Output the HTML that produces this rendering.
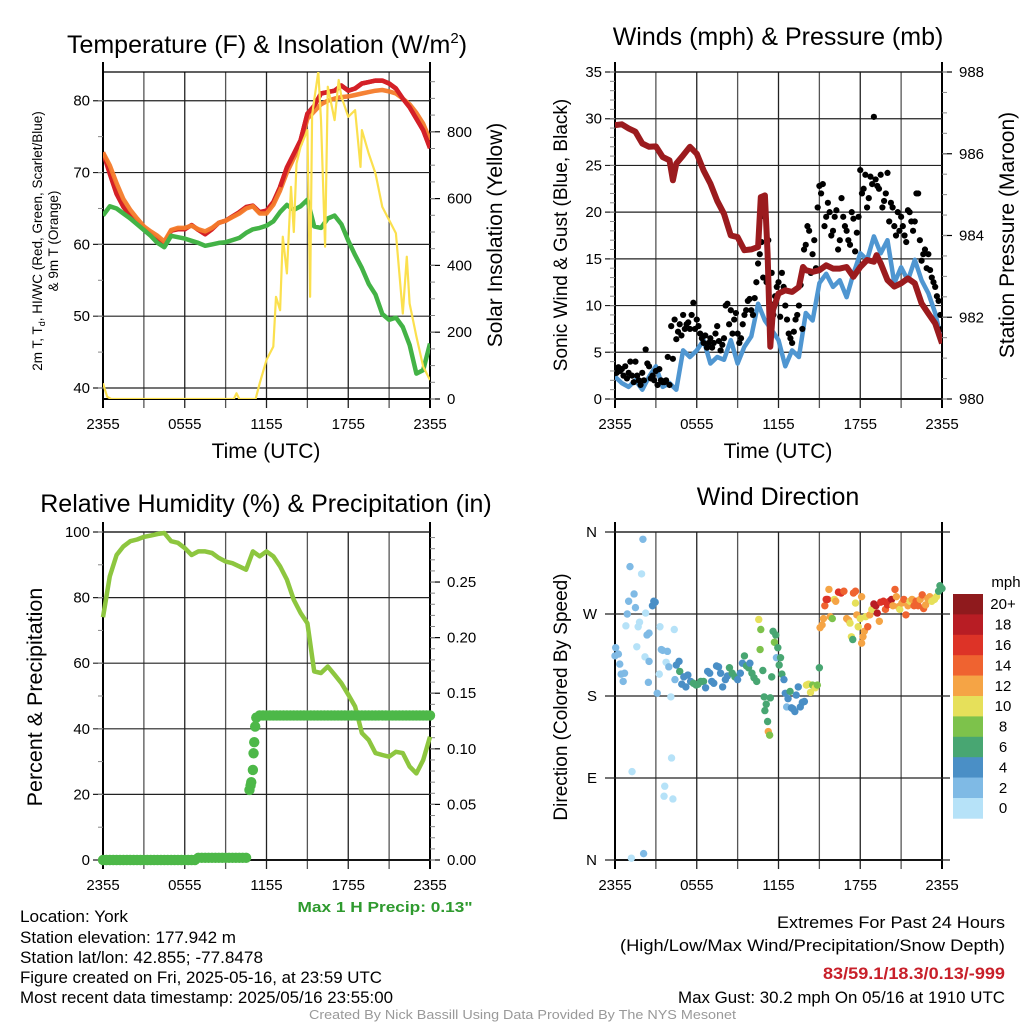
<!DOCTYPE html>
<html><head><meta charset="utf-8">
<style>
html,body{margin:0;padding:0;background:#fff;}
svg{display:block;font-family:"Liberation Sans",Arial,sans-serif;}
</style></head>
<body>
<svg id="chart" width="1024" height="1024" viewBox="0 0 1024 1024" xmlns="http://www.w3.org/2000/svg">
<rect x="0" y="0" width="1024" height="1024" fill="#fff"/>
<defs>
<clipPath id="c1"><rect x="103" y="72" width="327" height="327"/></clipPath>
<clipPath id="c2"><rect x="615" y="72" width="327" height="327"/></clipPath>
<clipPath id="c3"><rect x="97" y="526" width="340" height="340"/></clipPath>
<clipPath id="c4"><rect x="609" y="526" width="339" height="340"/></clipPath>
</defs>
<g id="layer"></g>

<text x="267" y="53" font-size="25" text-anchor="middle">Temperature (F) &amp; Insolation (W/m<tspan font-size="15" dy="-10">2</tspan><tspan dy="10">)</tspan></text>
<text x="778" y="45" font-size="25" text-anchor="middle">Winds (mph) &amp; Pressure (mb)</text>
<text x="266" y="512" font-size="25" text-anchor="middle">Relative Humidity (%) &amp; Precipitation (in)</text>
<text x="778" y="505" font-size="25" text-anchor="middle">Wind Direction</text>

<text transform="translate(42,241) rotate(-90)" font-size="13.5" text-anchor="middle">2m T, T<tspan font-size="9" dy="3">d</tspan><tspan dy="-3">, HI/WC (Red, Green, Scarlet/Blue)</tspan></text>
<text transform="translate(58,241) rotate(-90)" font-size="13.5" text-anchor="middle">&amp; 9m T (Orange)</text>
<text transform="translate(502,235) rotate(-90)" font-size="21" text-anchor="middle">Solar Insolation (Yellow)</text>
<text transform="translate(567,235) rotate(-90)" font-size="19" text-anchor="middle">Sonic Wind &amp; Gust (Blue, Black)</text>
<text transform="translate(1014,235) rotate(-90)" font-size="21" text-anchor="middle">Station Pressure (Maroon)</text>
<text transform="translate(42,697) rotate(-90)" font-size="21.5" text-anchor="middle">Percent &amp; Precipitation</text>
<text transform="translate(567,697) rotate(-90)" font-size="19" text-anchor="middle">Direction (Colored By Speed)</text>
<text x="266" y="458" font-size="21" text-anchor="middle">Time (UTC)</text>
<text x="778" y="458" font-size="21" text-anchor="middle">Time (UTC)</text>

<text x="385" y="912" font-size="15" font-weight="bold" fill="#2e9a2e" text-anchor="middle" textLength="175" lengthAdjust="spacingAndGlyphs">Max 1 H Precip: 0.13"</text>
<g font-size="16.5">
<text x="20" y="922" textLength="108" lengthAdjust="spacingAndGlyphs">Location: York</text>
<text x="20" y="943" textLength="216" lengthAdjust="spacingAndGlyphs">Station elevation: 177.942 m</text>
<text x="20" y="963" textLength="243" lengthAdjust="spacingAndGlyphs">Station lat/lon: 42.855; -77.8478</text>
<text x="20" y="983" textLength="362" lengthAdjust="spacingAndGlyphs">Figure created on Fri, 2025-05-16, at 23:59 UTC</text>
<text x="20" y="1003" textLength="373" lengthAdjust="spacingAndGlyphs">Most recent data timestamp: 2025/05/16 23:55:00</text>
</g>
<g font-size="16.5">
<text x="777" y="928" textLength="228" lengthAdjust="spacingAndGlyphs">Extremes For Past 24 Hours</text>
<text x="620" y="951" textLength="385" lengthAdjust="spacingAndGlyphs">(High/Low/Max Wind/Precipitation/Snow Depth)</text>
<text x="823" y="979" font-weight="bold" fill="#c8202a" textLength="182" lengthAdjust="spacingAndGlyphs">83/59.1/18.3/0.13/-999</text>
<text x="678" y="1003" textLength="327" lengthAdjust="spacingAndGlyphs">Max Gust: 30.2 mph On 05/16 at 1910 UTC</text>
</g>
<text x="309" y="1019" font-size="13" fill="#999" textLength="427" lengthAdjust="spacingAndGlyphs">Created By Nick Bassill Using Data Provided By The NYS Mesonet</text>
</svg>
<script>
// ---- data ----
const tempRed = [72.8,69.8,67,65.2,64,63.1,62.2,61.4,60.7,60,61.9,62.1,62.1,62.7,62,61.4,62.1,63,63.3,63.9,64.5,65.2,65.4,64.5,64.7,65.9,68,70.7,72.6,74.5,78.2,79.3,81,81.2,81.4,82.1,81.4,81.7,82.4,82.6,82.8,82.8,82.4,81.7,80.3,79.1,77.5,75.9,73.4];
const tempOrange = [72.8,71,68.5,66.3,64.8,63.6,62.5,61.8,61.2,60.4,62,62.3,62.3,62.6,62.1,61.8,62.3,63,63.3,63.8,64.3,65,65.3,64.3,64.3,65.5,67.5,70,72,74,77.5,78.5,79.5,80,80.3,80.5,80.6,80.8,81,81.2,81.4,81.5,81.3,81,80.3,79.5,78.3,76.8,74.5];
const dewGreen = [64,65.3,65,64.3,63.6,62.8,62,61.2,60.2,59.6,61.2,61,60.8,60.5,60.2,59.8,60,60.2,60.3,60.6,60.9,61.6,62.1,62.3,62.6,63.2,64.5,65.5,64.8,65.3,66.2,62.5,62.3,63.6,64,62.8,60.5,58.5,56.7,54.5,53,50.3,49.5,49.8,48.5,46,42,42.5,46.2];
const solarHours = [0,0.3,0.6,9.6,9.8,10,11.2,11.5,12,12.5,12.7,13,13.2,13.5,13.8,14,14.2,14.5,15,15.2,15.35,15.5,15.8,16,16.3,16.5,17,17.3,17.5,18,18.5,18.9,19,19.5,20,20.5,21,21.5,22,22.3,22.5,23,23.5,24];
const solarVals = [47,7,0,0,17,0,0,47,117,157,306,266,486,376,635,500,705,755,805,306,850,895,980,835,456,935,835,955,905,845,865,695,805,735,675,575,536,496,256,426,286,187,97,57];
const windSpeed = [2.4,1.7,1.3,2,1,2.4,3.5,1.3,1.7,1,5.2,4.5,5.2,6.3,3.8,4.5,4.2,6.3,3.8,5.6,6.7,10.2,8.4,7.4,6.3,3.5,5.2,4.5,9.2,8.4,12.4,13.4,12,12.7,10.9,13.4,15.6,14.9,17.4,15.6,17,12.4,14.1,12.7,14.9,12.7,11.3,9.2,6];
const gustA = [3.0,3.4,3.2,3.5,2.8,2.5,4.0,2.0,2.8,5.3,3.5,2.5,3.0,3.2,1.8,2.0,1.5,4.3,6.4,8.0,9.0,8.0,7.5,10.3,8.5,7.0,6.0,5.5,6.5,6.0,7.8,5.2,6.5,10.2,9.5,8.5,7.0,6.5,9.0,10.5,9.5,10.8,14.5,16.8,19.5,17.0,13.5,11.0,12.5,13.5,10.0,7.0,6.0,8.5,10.0,7.5,16.5,18.0,15.5,14.0,22.8,23.0,19.5,20.0,18.0,20.2,17.0,19.5,18.0,16.5,19.3,17.8,24.5,22.5,20.5,23.8,30.2,22.8,24.0,21.2,24.2,21.0,18.5,20.0,19.5,17.5,20.2,19.0,19.0,22.0,14.8,16.0,15.5,13.0,12.0,10.5,7.5];
const gustB = [2.8,3.0,2.5,2.2,4.0,1.8,2.5,1.5,2.0,3.8,2.2,2.0,1.5,2.0,1.8,4.5,7.8,8.5,7.2,6.8,7.5,8.2,9.0,7.5,7.8,6.5,6.8,6.0,5.5,7.0,6.2,5.8,10.0,8.0,7.0,9.2,6.0,8.0,9.5,10.7,9.0,12.5,15.5,13.0,12.5,10.2,9.0,12.0,8.8,12.0,8.5,6.5,7.2,9.0,12.2,16.0,18.5,13.5,17.0,20.5,22.0,18.5,21.0,17.5,19.5,16.0,21.5,18.5,17.0,20.0,15.8,19.5,22.0,24.0,21.5,23.0,23.5,22.5,20.5,22.0,19.0,20.5,17.5,18.0,18.5,16.8,20.0,18.0,22.0,17.0,15.5,14.0,13.8,12.5,11.0,9.0];
const pressHours = [0,0.5,1,1.5,2,2.5,3,3.5,4,4.25,4.5,5,5.5,6,6.5,7,7.5,8,8.5,9,9.5,10,10.5,10.7,11,11.2,11.4,11.6,12,12.5,13,13.5,13.8,14,14.5,15,15.5,16,16.5,17,17.5,18,18.5,19,19.2,19.5,20,20.5,21,21.5,22,22.5,23,23.5,24];
const pressVals = [986.70,986.72,986.62,986.54,986.25,986.17,986.18,985.92,985.84,985.35,985.76,985.96,986.17,986.0,985.59,985.27,984.85,984.53,984.0,983.96,983.64,983.66,983.72,984.94,984.98,983.55,981.28,982.18,982.58,982.66,982.62,982.74,983.23,983.15,983.11,983.15,983.27,983.19,983.19,983.23,982.99,983.23,983.4,983.36,983.52,983.32,982.91,982.75,982.83,982.95,982.83,982.34,982.09,981.85,981.36];
const rhVals = [74,86.5,93,95.6,97.2,97.7,98.5,98.9,99.4,99.7,97.2,96.7,95.1,93,94.1,94.1,93.6,92.1,91,90.5,89.5,88.5,94.1,92.6,94.1,92.6,89.5,85.5,79.3,75.3,72.2,57.5,57,59,56.5,53.9,50.4,46.8,38.7,36.6,32.6,32,31.5,33,32.6,28.5,26.4,30.5,37.6];
const precip15 = [0,0,0,0,0,0,0,0,0,0,0,0,0,0,0,0,0,0,0,0,0,0,0,0,0,0,0,0,0.002,0.002,0.002,0.002,0.002,0.002,0.002,0.002,0.002,0.002,0.002,0.002,0.002,0.002,0.002,0.063,0.081,0.128,0.13,0.13,0.13,0.13,0.13,0.13,0.13,0.13,0.13,0.13,0.13,0.13,0.13,0.13,0.13,0.13,0.13,0.13,0.13,0.13,0.13,0.13,0.13,0.13,0.13,0.13,0.13,0.13,0.13,0.13,0.13,0.13,0.13,0.13,0.13,0.13,0.13,0.13,0.13,0.13,0.13,0.13,0.13,0.13,0.13,0.13,0.13,0.13,0.13,0.13,0.13];
const precipRampHours = [10.83,10.88,11.05,11.1,11.17];
const precipRampVals = [0.067,0.07,0.096,0.106,0.12];
const dirHours = [0,0.05,0.25,0.35,0.45,0.6,0.7,0.8,0.9,1.0,1.1,1.25,1.2,1.4,1.5,1.6,1.7,1.8,1.95,2.05,2.1,2.2,2.25,2.35,2.5,2.5,2.45,2.75,2.85,2.95,3.1,3.25,3.3,3.4,3.5,3.6,3.65,3.75,3.85,3.95,4.1,4.15,4.25,4.35,4.4,4.5,4.7,4.75,4.9,5.05,5.2,5.35,5.55,5.75,5.95,6.1,6.3,6.5,6.65,6.8,6.95,7.1,7.25,7.45,7.6,7.75,7.9,8.1,8.25,8.4,8.6,8.8,9.0,9.2,9.35,9.5,9.65,9.8,9.9,10.05,10.2,10.4,10.55,10.65,10.7,10.85,10.95,11.0,11.1,11.2,11.25,11.35,11.4,11.5,11.6,11.7,11.8,11.85,11.95,12.05,12.15,12.25,12.4,12.5,12.6,12.7,12.85,12.95,13.05,13.2,13.3,13.45,13.6,13.75,13.9,14.05,14.2,14.35,14.5,14.7,14.85,15.0,15.05,15.2,15.3,15.4,15.5,15.6,15.7,15.8,15.95,16.1,16.2,16.4,16.6,16.8,17.0,17.15,17.25,17.35,17.45,17.5,17.65,17.65,17.75,17.85,18.0,18.1,18.1,18.2,18.3,18.4,18.55,18.7,18.85,19.0,19.15,19.25,19.4,19.5,19.7,19.85,20.0,20.15,20.3,20.4,20.55,20.65,20.8,20.9,21.05,21.2,21.35,21.5,21.65,21.8,21.95,22.1,22.25,22.4,22.55,22.65,22.8,22.95,23.1,23.25,23.45,23.6,23.75,23.85,24.0];
const dirDeg = [224,233,226,215,204,196,205,257,270,284,322,97,2,292,277,234,256,261,314,352,7,223,271,247,249,218,195,279,284,283,183,204,256,231,230,70,81,217,229,212,179,112,67,253,198,214,218,207,193,201,190,203,196,194,192,193,196,196,189,207,205,196,194,213,212,205,190,198,202,211,205,201,198,205,216,224,213,211,216,205,200,196,264,231,253,208,179,164,171,152,141,137,178,201,251,239,247,222,233,214,222,204,198,183,168,177,185,167,166,163,181,190,168,173,174,192,193,184,192,189,192,211,255,258,265,279,286,286,297,267,265,286,284,294,293,295,265,263,260,245,242,293,295,282,269,256,265,289,238,245,251,267,256,269,275,281,279,271,262,283,284,275,280,284,286,279,297,289,278,275,282,286,269,279,284,286,279,284,279,286,291,276,280,287,289,284,286,289,295,301,298];
const dirSpeed = [2,2,2,2,2,2,2,1,2,2,2,0.5,1,2,2,1,0.5,0.5,1,2,3,1,1,2,2,3,2,4,4,4,2,1,1,3,2,0.5,1,1,3,2,1,1,1,1,2,4,4,6,4,4,4,4,4,6,6,6,6,6,4,4,4,4,4,4,4,4,4,4,4,6,6,6,4,4,4,6,6,6,4,6,6,6,10,8,8,6,6,6,6,6,12,8,6,6,6,8,6,2,6,6,6,6,4,4,2,4,6,4,4,4,4,4,4,4,4,10,10,10,8,10,8,6,12,12,12,14,16,16,12,12,8,10,12,16,16,14,12,12,10,10,6,14,14,10,12,10,10,12,12,12,12,10,14,12,10,18,18,18,12,16,16,14,16,16,18,12,14,12,12,10,12,14,14,12,10,12,14,14,14,12,14,14,12,12,12,10,10,10,6,6,6];
const speedColors = ["#b6e2f8","#7fbae5","#4a8fc6","#48a672","#7dc24b","#e6e05a","#f5a445","#ef6330","#dd3327","#b81d24","#8f1a1d"];
const speedLabels = ["0","2","4","6","8","10","12","14","16","18","20+"];
const timeTickLabels = ["2355","0555","1155","1755","2355"];
const tempTicks = [40,50,60,70,80];
const solarTicks = [0,200,400,600,800];
const windTicks = [0,5,10,15,20,25,30,35];
const pressTicks = [980,982,984,986,988];
const rhTicks = [0,20,40,60,80,100];
const precipTicks = ["0.00","0.05","0.10","0.15","0.20","0.25"];
const dirTickLabels = ["N","E","S","W","N"];

// ---- helpers ----
const NS = "http://www.w3.org/2000/svg";
const layer = document.getElementById('layer');
function mk(tag, attrs, parent) {
  const e = document.createElementNS(NS, tag);
  for (const k in attrs) e.setAttribute(k, attrs[k]);
  (parent || layer).appendChild(e);
  return e;
}
function lin(d0, d1, r0, r1) { return v => r0 + (v - d0) / (d1 - d0) * (r1 - r0); }
function line(x1, y1, x2, y2, w, c, parent) {
  return mk('line', {x1:x1, y1:y1, x2:x2, y2:y2, stroke:c || '#000', 'stroke-width':w || 1}, parent);
}
function txt(x, y, s, size, anchor, parent) {
  const t = mk('text', {x:x, y:y, 'font-size':size, 'text-anchor':anchor || 'middle'}, parent);
  t.textContent = s;
  return t;
}
function pathD(xs, ys) {
  let d = '';
  for (let i = 0; i < xs.length; i++) d += (i ? 'L' : 'M') + xs[i].toFixed(1) + ',' + ys[i].toFixed(1);
  return d;
}

function frame(name, x0, x1, y0, y1, withTopExt) {
  const g = mk('g', {});
  
  
  const xs = lin(0, 24, x0, x1);
  for (let h = 0; h <= 24; h += 3) {
    const gl = line(xs(h), y0, xs(h), y1 + 9, 1.3, (h % 6 === 0) ? '#222' : '#555', g);
    
    
  }
  for (let i = 0; i < timeTickLabels.length; i++) {
    const t = txt(xs(i * 6), y1 + 30, timeTickLabels[i], 15, 'middle', g);
    
    
  }
  line(x0, y0 - (withTopExt ? 10 : 0), x0, y1 + 9, 2, '#000', g);
  line(x1, y0 - (withTopExt ? 10 : 0), x1, y1 + 9, 2, '#000', g);
  line(x0, y0, x1, y0, 1.3, '#000', g);
  line(x0, y1, x1, y1, 2, '#000', g);
  return g;
}
function leftAxis(g, x0, x1, ys, ticks, labels, minorStep, d0, d1) {
  for (let i = 0; i < ticks.length; i++) {
    const y = ys(ticks[i]);
    const gl = line(x0 - 10, y, x1, y, 1.2, '#222', g);
    
    
    const t = txt(x0 - 13, y + 5, labels[i], 15, 'end', g);
    
    
  }
  if (minorStep) for (let v = d0; v <= d1 + 1e-9; v += minorStep) line(x0 - 5, ys(v), x0, ys(v), 1, '#888', g);
}
function rightAxis(g, x1, ys, ticks, labels, minorStep, d0, d1) {
  for (let i = 0; i < ticks.length; i++) {
    const y = ys(ticks[i]);
    line(x1, y, x1 + 10, y, 1.2, '#000', g);
    const t = txt(x1 + 17, y + 5, labels[i], 15, 'start', g);
    
    
  }
  for (let v = d0; v <= d1 + 1e-9; v += minorStep) line(x1, ys(v), x1 + 5, ys(v), 1, '#888', g);
}

// ---- Panel 1: temperature ----
(function(){
  const x0 = 103, x1 = 430, y0 = 72, y1 = 399;
  const xs = lin(0, 24, x0, x1);
  const yT = lin(38.47, 84.0, y1, y0);
  const yS = lin(0, 979, y1, y0);
  const g = frame('temperature', x0, x1, y0, y1, true);
  leftAxis(g, x0, x1, yT, tempTicks, tempTicks.map(String), 5, 40, 80);
  rightAxis(g, x1, yS, solarTicks, solarTicks.map(String), 50, 0, 950);
  const half = tempRed.map((v, i) => i * 0.5);
  const pl = mk('g', {'clip-path':'url(#c1)'});
  
  
  const red = mk('path', {d:pathD(half.map(xs), tempRed.map(yT)), fill:'none', stroke:'#d42027', 'stroke-width':4.5, 'stroke-linejoin':'round'}, pl);
  
  
  const org = mk('path', {d:pathD(half.map(xs), tempOrange.map(yT)), fill:'none', stroke:'#f47b2a', 'stroke-width':4.5, 'stroke-linejoin':'round', opacity:0.95}, pl);
  
  
  const red2 = mk('path', {d:pathD(half.slice(26).map(xs), tempRed.slice(26).map(yT)), fill:'none', stroke:'#d42027', 'stroke-width':4.5, 'stroke-linejoin':'round'}, pl);
  
  
  const grn = mk('path', {d:pathD(half.map(xs), dewGreen.map(yT)), fill:'none', stroke:'#43b346', 'stroke-width':4.5, 'stroke-linejoin':'round'}, pl);
  
  
  const sol = mk('path', {d:pathD(solarHours.map(xs), solarVals.map(yS)), fill:'none', stroke:'#fbe04e', 'stroke-width':2.2, 'stroke-linejoin':'round'}, pl);
  
  
})();

// ---- Panel 2: winds ----
(function(){
  const x0 = 615, x1 = 942, y0 = 72, y1 = 399;
  const xs = lin(0, 24, x0, x1);
  const yW = lin(0, 35, y1, y0);
  const yP = lin(980, 988, y1, y0);
  const g = frame('winds', x0, x1, y0, y1, true);
  leftAxis(g, x0, x1, yW, windTicks, windTicks.map(String), 1, 0, 35);
  rightAxis(g, x1, yP, pressTicks, pressTicks.map(String), 0.5, 980, 988);
  const pl = mk('g', {'clip-path':'url(#c2)'});
  
  
  const half = windSpeed.map((v, i) => i * 0.5);
  const w = mk('path', {d:pathD(half.map(xs), windSpeed.map(yW)), fill:'none', stroke:'#4f96d1', 'stroke-width':4.5, 'stroke-linejoin':'round'}, pl);
  
  
  gustA.forEach((v, i) => {
    const c = mk('circle', {cx:xs(i * 0.25), cy:yW(v), r:3.1, fill:'#000'}, pl);
    
    
  });
  gustB.forEach((v, i) => {
    const c = mk('circle', {cx:xs(i * 0.25 + 0.125), cy:yW(v), r:3.1, fill:'#000'}, pl);
    
    
  });
  const p = mk('path', {d:pathD(pressHours.map(xs), pressVals.map(yP)), fill:'none', stroke:'#9b1b1e', 'stroke-width':6, 'stroke-linejoin':'round'}, pl);
  
  
})();

// ---- Panel 3: humidity ----
(function(){
  const x0 = 103, x1 = 430, y0 = 532, y1 = 860;
  const xs = lin(0, 24, x0, x1);
  const yR = lin(0, 100, y1, y0);
  const yPr = lin(0, 0.295, y1, y0);
  const g = frame('humidity', x0, x1, y0, y1, true);
  leftAxis(g, x0, x1, yR, rhTicks, rhTicks.map(String), 10, 0, 100);
  rightAxis(g, x1, yPr, precipTicks.map(Number), precipTicks, 0.01, 0, 0.29);
  const pl = mk('g', {'clip-path':'url(#c3)'});
  
  
  const half = rhVals.map((v, i) => i * 0.5);
  const rh = mk('path', {d:pathD(half.map(xs), rhVals.map(yR)), fill:'none', stroke:'#8dc63f', 'stroke-width':4.5, 'stroke-linejoin':'round'}, pl);
  
  
  precip15.forEach((v, i) => {
    const c = mk('circle', {cx:xs(i * 0.25), cy:yPr(v), r:5.2, fill:'#4db848'}, pl);
    
    
  });
  precipRampVals.forEach((v, i) => {
    const c = mk('circle', {cx:xs(precipRampHours[i]), cy:yPr(v), r:5.2, fill:'#4db848'}, pl);
    
    
  });
})();

// ---- Panel 4: wind direction ----
(function(){
  const x0 = 615, x1 = 942, y0 = 532, y1 = 860;
  const xs = lin(0, 24, x0, x1);
  const yD = lin(0, 360, y1, y0);
  const g = frame('direction', x0, x1, y0, y1, true);
  for (let i = 0; i < dirTickLabels.length; i++) {
    const y = yD(i * 90);
    const gl = line(x0 - 10, y, x1 + 8, y, 1.2, '#222', g);
    
    
    const t = txt(x0 - 18, y + 5, dirTickLabels[i], 15, 'end', g);
    
    
  }
  const pl = mk('g', {'clip-path':'url(#c4)'});
  
  
  dirDeg.forEach((d, i) => {
    const idx = Math.min(10, Math.floor(dirSpeed[i] / 2));
    const c = mk('circle', {cx:xs(dirHours[i]), cy:yD(d), r:3.7, fill:speedColors[idx]}, pl);
    
    
  });
  const cb = mk('g', {});
  
  
  const cbTop = 594, segH = 20.4;
  for (let i = 0; i < speedColors.length; i++) {
    const k = speedColors.length - 1 - i;
    const y = cbTop + i * segH;
    const r = mk('rect', {x:953, y:y, width:30, height:segH + 0.3, fill:speedColors[k]}, cb);
    
    
    const t = txt(1003, y + segH / 2 + 5, speedLabels[k], 15, 'middle', cb);
    
    
  }
  const u = txt(1006, 587, 'mph', 15, 'middle', cb);
  
  
})();
</script>
</body></html>
